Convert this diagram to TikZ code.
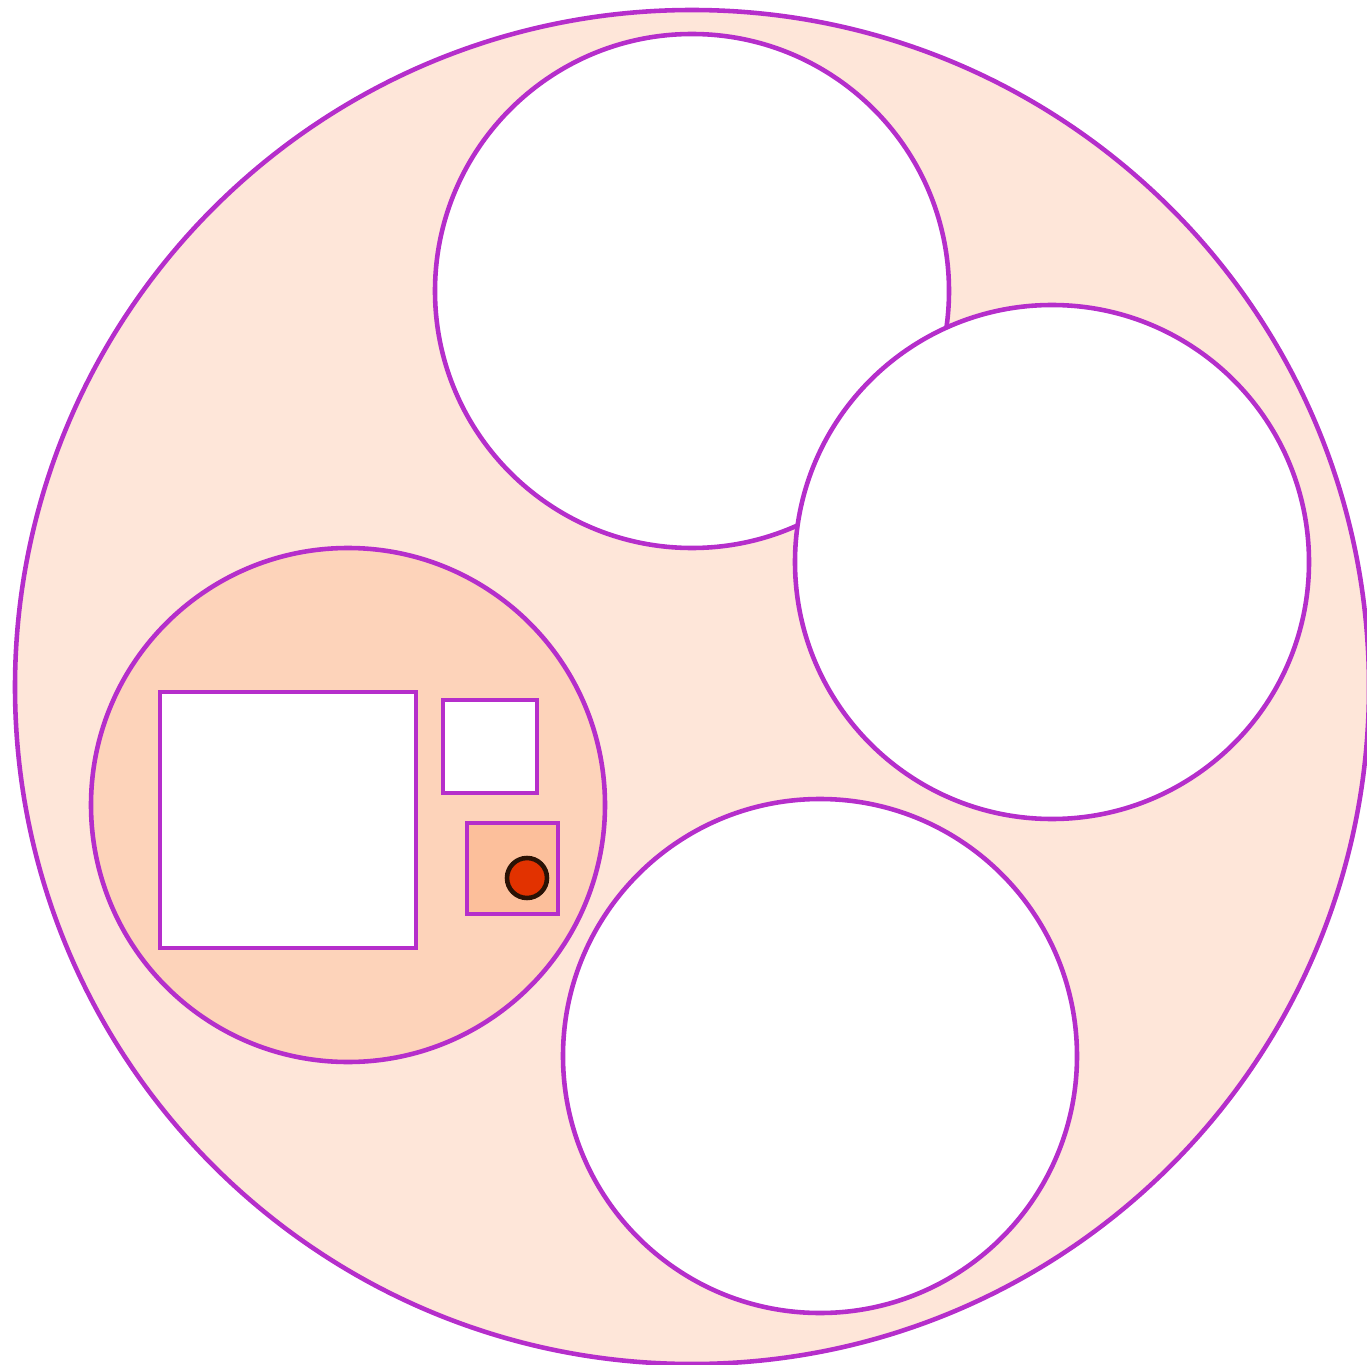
\documentclass[tikz,border=0pt]{standalone}
\definecolor{bgfill}{HTML}{FEE6D9}
\definecolor{midfill}{HTML}{FDD3BA}
\definecolor{sqfill}{HTML}{FCBF9B}
\definecolor{edge}{HTML}{B52ECB}
\definecolor{dotfill}{HTML}{E23200}
\definecolor{dotedge}{HTML}{2A1205}
\begin{document}
\begin{tikzpicture}[x=0.02cm,y=-0.02cm,
  ring/.style={draw=edge,line width=2.6pt},
  hole/.style={ring,fill=white}]
\useasboundingbox (0,0) rectangle (1367,1365);
\begin{scope}
\clip (0,0) rectangle (1367,1365);
\draw[ring,fill=bgfill] (692,687) circle (677);
\end{scope}
\draw[hole] (692,291) circle (257);
\draw[hole] (1052,562) circle (257);
\draw[hole] (820,1056) circle (257);
\draw[ring,fill=midfill] (348,805) circle (257);
\draw[hole] (160,692) rectangle (416,948);
\draw[hole] (443,700) rectangle (537,793);
\draw[ring,fill=sqfill] (467,823) rectangle (558,914);
\draw[draw=dotedge,fill=dotfill,line width=2.6pt] (527,878) circle (20);
\end{tikzpicture}
\end{document}
